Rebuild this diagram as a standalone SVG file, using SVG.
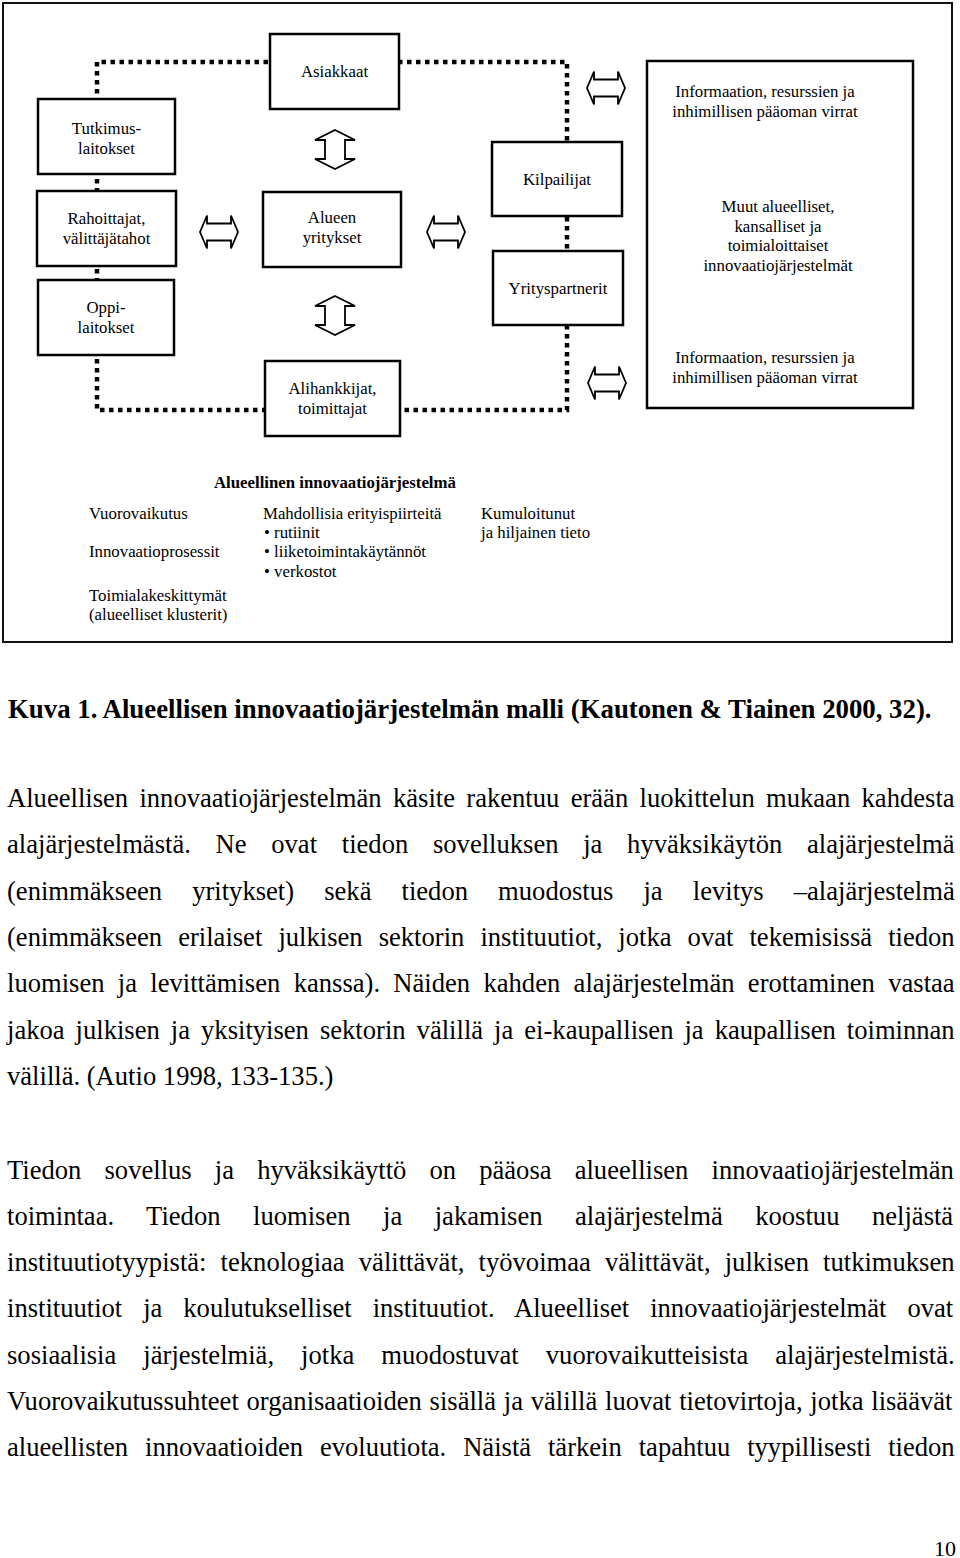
<svg xmlns="http://www.w3.org/2000/svg" xmlns:xlink="http://www.w3.org/1999/xlink" width="960" height="1558" viewBox="0 0 960 1558">
<style>
.frame{fill:#fff;stroke:#111;stroke-width:2}
.box{fill:#fff;stroke:#000;stroke-width:2.5}
.dot{fill:none;stroke:#000;stroke-width:4.5;stroke-dasharray:4.5 4.5;stroke-linecap:butt}
.arr{fill:#fff;stroke:#000;stroke-width:1.8;stroke-linejoin:miter}
.t{font-family:"Liberation Serif","Times New Roman",serif;font-size:16.8px;fill:#000}
.c{text-anchor:middle}
.b{font-weight:bold}
.body{font-family:"Liberation Serif","Times New Roman",serif;font-size:26.6px;fill:#000}
</style>
<defs>
<path id="harr" class="arr" d="M-19,0 L-12,-16.5 L-12,-8.5 L12,-8.5 L12,-16.5 L19,0 L12,16.5 L12,8.5 L-12,8.5 L-12,16.5 Z"/>
<path id="varr" class="arr" d="M0,-19.5 L20,-9.5 L10,-9.5 L10,9.5 L20,9.5 L0,19.5 L-20,9.5 L-10,9.5 L-10,-9.5 L-20,-9.5 Z"/>
</defs>
<rect width="960" height="1558" fill="#fff"/>
<rect id="frame" class="frame" x="3" y="3" width="949" height="639"/>

<g id="connectors">
<path class="dot" d="M268,62 H97 V410 H266"/>
<path class="dot" d="M398,62 H567 V410 H400"/>
<use xlink:href="#harr" x="219" y="232"/>
<use xlink:href="#harr" x="446" y="232"/>
<use xlink:href="#harr" x="606" y="88"/>
<use xlink:href="#harr" x="607" y="383"/>
<use xlink:href="#varr" x="335" y="149.5"/>
<use xlink:href="#varr" x="335" y="315.5"/>
</g>

<g id="tutkimuslaitokset">
<rect class="box" x="38" y="99" width="137" height="75"/>
<text class="t c" x="106.5" y="134">Tutkimus-</text>
<text class="t c" x="106.5" y="154">laitokset</text>
</g>
<g id="rahoittajat">
<rect class="box" x="37" y="191" width="139" height="75"/>
<text class="t c" x="106.5" y="224">Rahoittajat,</text>
<text class="t c" x="106.5" y="244">välittäjätahot</text>
</g>
<g id="oppilaitokset">
<rect class="box" x="38" y="280" width="136" height="75"/>
<text class="t c" x="106" y="313">Oppi-</text>
<text class="t c" x="106" y="333">laitokset</text>
</g>
<g id="asiakkaat">
<rect class="box" x="270" y="34" width="129" height="75"/>
<text class="t c" x="334.5" y="77">Asiakkaat</text>
</g>
<g id="alueen-yritykset">
<rect class="box" x="263" y="192" width="138" height="75"/>
<text class="t c" x="332" y="223">Alueen</text>
<text class="t c" x="332" y="243">yritykset</text>
</g>
<g id="alihankkijat">
<rect class="box" x="265" y="361" width="135" height="75"/>
<text class="t c" x="332.5" y="394">Alihankkijat,</text>
<text class="t c" x="332.5" y="414">toimittajat</text>
</g>
<g id="kilpailijat">
<rect class="box" x="492" y="142" width="130" height="74"/>
<text class="t c" x="557" y="185">Kilpailijat</text>
</g>
<g id="yrityspartnerit">
<rect class="box" x="493" y="251" width="130" height="74"/>
<text class="t c" x="558" y="294">Yrityspartnerit</text>
</g>
<g id="muut-jarjestelmat">
<rect class="box" x="647" y="61" width="266" height="347"/>
<text class="t c" x="765" y="97">Informaation, resurssien ja</text>
<text class="t c" x="765" y="117">inhimillisen pääoman virrat</text>
<text class="t c" x="778" y="212">Muut alueelliset,</text>
<text class="t c" x="778" y="232">kansalliset ja</text>
<text class="t c" x="778" y="251">toimialoittaiset</text>
<text class="t c" x="778" y="271">innovaatiojärjestelmät</text>
<text class="t c" x="765" y="363">Informaation, resurssien ja</text>
<text class="t c" x="765" y="383">inhimillisen pääoman virrat</text>
</g>

<g id="alueellinen-jarjestelma">
<text class="t b" x="214" y="488">Alueellinen innovaatiojärjestelmä</text>
<text class="t" x="89" y="519">Vuorovaikutus</text>
<text class="t" x="89" y="557">Innovaatioprosessit</text>
<text class="t" x="89" y="601">Toimialakeskittymät</text>
<text class="t" x="89" y="620">(alueelliset klusterit)</text>
<text class="t" x="263" y="519">Mahdollisia erityispiirteitä</text>
<text class="t" x="264" y="538">• rutiinit</text>
<text class="t" x="264" y="557">• liiketoimintakäytännöt</text>
<text class="t" x="264" y="577">• verkostot</text>
<text class="t" x="481" y="519">Kumuloitunut</text>
<text class="t" x="481" y="538">ja hiljainen tieto</text>
</g>

<g id="caption">
<text class="body b" x="8" y="718" style="font-size:26.8px">Kuva 1. Alueellisen innovaatiojärjestelmän malli (Kautonen &amp; Tiainen 2000, 32).</text>
</g>

<g id="paragraph1">
<text class="body" x="7" y="807" style="word-spacing:4.66px">Alueellisen innovaatiojärjestelmän käsite rakentuu erään luokittelun mukaan kahdesta</text>
<text class="body" x="7" y="853.3" style="word-spacing:18.06px">alajärjestelmästä. Ne ovat tiedon sovelluksen ja hyväksikäytön alajärjestelmä</text>
<text class="body" x="7" y="899.6" style="word-spacing:23.45px">(enimmäkseen yritykset) sekä tiedon muodostus ja levitys –alajärjestelmä</text>
<text class="body" x="7" y="945.9" style="word-spacing:9.42px">(enimmäkseen erilaiset julkisen sektorin instituutiot, jotka ovat tekemisissä tiedon</text>
<text class="body" x="7" y="992.2" style="word-spacing:6.67px">luomisen ja levittämisen kanssa). Näiden kahden alajärjestelmän erottaminen vastaa</text>
<text class="body" x="7" y="1038.5" style="word-spacing:4.37px">jakoa julkisen ja yksityisen sektorin välillä ja ei-kaupallisen ja kaupallisen toiminnan</text>
<text class="body" x="7" y="1084.8">välillä. (Autio 1998, 133-135.)</text>
</g>

<g id="paragraph2">
<text class="body" x="7" y="1178.5" style="word-spacing:16.48px">Tiedon sovellus ja hyväksikäyttö on pääosa alueellisen innovaatiojärjestelmän</text>
<text class="body" x="7" y="1224.8" style="word-spacing:25.86px">toimintaa. Tiedon luomisen ja jakamisen alajärjestelmä koostuu neljästä</text>
<text class="body" x="7" y="1271.1" style="word-spacing:7.5px">instituutiotyypistä: teknologiaa välittävät, työvoimaa välittävät, julkisen tutkimuksen</text>
<text class="body" x="7" y="1317.4" style="word-spacing:14.28px">instituutiot ja koulutukselliset instituutiot. Alueelliset innovaatiojärjestelmät ovat</text>
<text class="body" x="7" y="1363.7" style="word-spacing:20.41px">sosiaalisia järjestelmiä, jotka muodostuvat vuorovaikutteisista alajärjestelmistä.</text>
<text class="body" x="7" y="1410" style="word-spacing:1.11px">Vuorovaikutussuhteet organisaatioiden sisällä ja välillä luovat tietovirtoja, jotka lisäävät</text>
<text class="body" x="7" y="1456.3" style="word-spacing:10.25px">alueellisten innovaatioiden evoluutiota. Näistä tärkein tapahtuu tyypillisesti tiedon</text>
</g>

<g id="page-number">
<text class="body" x="956" y="1556" style="font-size:22px;text-anchor:end">10</text>
</g>
</svg>
